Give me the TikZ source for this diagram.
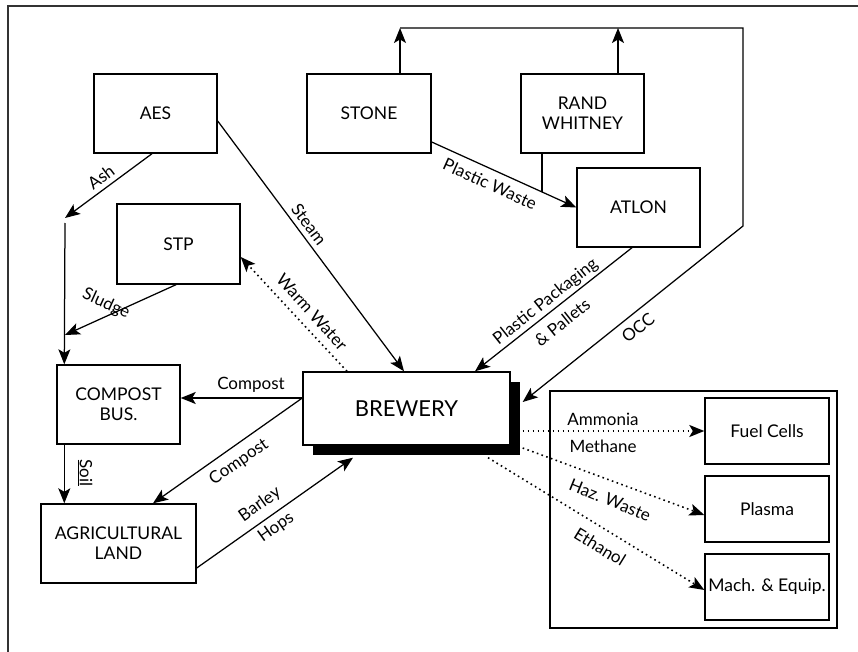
\documentclass[tikz,border=0pt]{standalone}
\usepackage{fontspec}
\setmainfont{Lato}
\usetikzlibrary{arrows.meta}
\begin{document}
\begin{tikzpicture}[x=1pt,y=-1pt,
  box/.style={draw, line width=1.4pt, fill=white, inner sep=0pt, align=center,
    font=\fontsize{17.5}{20}\selectfont},
  flow/.style={line width=1.25pt, -{Stealth[length=15pt,width=12pt,inset=3.5pt]}},
  plain/.style={line width=1.25pt},
  dotflow/.style={flow, line width=1.6pt, dash pattern=on 1.6pt off 3.4pt},
  lbl/.style={inner sep=0pt, font=\fontsize{17}{28}\selectfont, align=center},
  frame/.style={line width=2.4pt, draw=black!80},
]
\useasboundingbox (0,0) rectangle (858,652);

% outer frame
\draw[frame] (8,652) -- (8,6) -- (858,6);

% right-hand group box
\node[box, minimum width=287pt, minimum height=237pt] (group) at (693.5,509.5) {};

% shadow and brewery
\fill (313,382) rectangle (520,455);
\node[box, minimum width=207pt, minimum height=73pt, font=\fontsize{22}{26}\selectfont] (brewery) at (406.5,408.5) {BREWERY};

% organisations
\node[box, minimum width=123pt, minimum height=79pt] (aes) at (155.5,113.5) {AES};
\node[box, minimum width=124pt, minimum height=79pt] (stone) at (369,113.5) {STONE};
\node[box, minimum width=123pt, minimum height=79pt] (rand) at (582.5,113.5) {RAND\\WHITNEY};
\node[box, minimum width=123pt, minimum height=79pt] (atlon) at (638.5,207.5) {ATLON};
\node[box, minimum width=123pt, minimum height=80pt] (stp) at (178.5,244) {STP};
\node[box, minimum width=123pt, minimum height=79pt] (compost) at (118.5,404.5) {COMPOST\\BUS.};
\node[box, minimum width=155pt, minimum height=79pt] (agri) at (118.5,543.5) {AGRICULTURAL\\LAND};

% by-product users
\node[box, minimum width=124pt, minimum height=66pt] (fuel) at (767,431) {Fuel Cells};
\node[box, minimum width=124pt, minimum height=66pt] (plasma) at (767,509) {Plasma};
\node[box, minimum width=124pt, minimum height=66pt] (mach) at (767,587) {Mach. \& Equip.};

% free junction points
\coordinate (ashend) at (65,218);
\coordinate (feedtop) at (65,223);
\coordinate (sludgeend) at (65,335);
\coordinate (randjoin) at (542,192);
\coordinate (stoneup) at (400,28);
\coordinate (randup) at (618,28);
\coordinate (occtr) at (743,28);
\coordinate (occbend) at (743,226);

% AES ash and sludge into the compost business
\draw[flow] ([xshift=-3.5pt]aes.south) -- (ashend);
\draw[flow] (feedtop) -- ([xshift=8pt]compost.north west);
\draw[flow] ([xshift=-2.5pt]stp.south) -- (sludgeend);

% steam and warm water
\draw[flow] ([yshift=-7.5pt]aes.east) -- ([xshift=-2.5pt]brewery.north);
\draw[dotflow] ([xshift=-59.5pt]brewery.north) -- ([yshift=-13pt]stp.east);

% plastic waste to ATLON
\draw[flow] ([yshift=-28.5pt]stone.east) -- (atlon.west);
\draw[plain] ([xshift=-40.5pt]rand.south) -- (randjoin);

% OCC loop
\draw[flow] ([xshift=31pt]stone.north) -- (stoneup);
\draw[flow] ([xshift=35.5pt]rand.north) -- (randup);
\draw[flow] (stoneup) -- (occtr) -- (occbend) -- ([xshift=12pt,yshift=6.5pt]brewery.east);

% plastic packaging
\draw[flow] ([xshift=-6.5pt]atlon.south) -- ([xshift=68.5pt]brewery.north);

% compost and farm loop
\draw[flow] ([yshift=10.5pt]brewery.west) -- ([yshift=6.5pt]compost.east);
\draw[flow] ([yshift=10.5pt]brewery.west) -- ([xshift=34.5pt]agri.north);
\draw[flow] ([yshift=-24.5pt]agri.east) -- ([xshift=-53.5pt,yshift=-12pt]brewery.south);
\draw[flow] ([xshift=8pt]compost.south west) -- ([xshift=24pt]agri.north west);

% by-products
\draw[dotflow] ([xshift=12pt,yshift=-22.5pt]brewery.east) -- (fuel.west);
\draw[dotflow] ([xshift=12pt,yshift=-39.5pt]brewery.east) -- ([yshift=-6pt]plasma.west);
\draw[dotflow] ([xshift=81.5pt,yshift=-12pt]brewery.south) -- ([yshift=-3pt]mach.west);

% flow labels
\node[lbl, rotate=36.8] (lash) at (101,177) {Ash};
\node[lbl, rotate=-24.5] (lsludge) at (106,304) {Sludge};
\node[lbl, rotate=-53.3] (lsteam) at (309,224) {Steam};
\node[lbl, rotate=-47.9] (lwarm) at (312,312) {Warm Water};
\node[lbl, rotate=-24.3] (lplastic) at (490,184) {Plastic Waste};
\node[lbl, rotate=38.5] (lpack) at (553.5,311.5) {Plastic Packaging\\\& Pallets};
\node[lbl, rotate=38.5] (locc) at (638,328) {OCC};
\node[lbl] (lcomp1) at (251,385) {Compost};
\node[lbl, rotate=34.6] (lcomp2) at (239,462) {Compost};
\node[lbl, rotate=35.3] (lbarley) at (268,516) {Barley\\Hops};
\node[lbl, rotate=-90] (lsoil) at (85,473) {\underline{Soil}};
\node[lbl, font=\fontsize{17}{27}\selectfont] (lammonia) at (603,432.5) {Ammonia\\Methane};
\node[lbl, rotate=-22] (lhaz) at (610,500) {Haz. Waste};
\node[lbl, rotate=-31.5] (lethanol) at (600,547) {Ethanol};
\end{tikzpicture}
\end{document}
